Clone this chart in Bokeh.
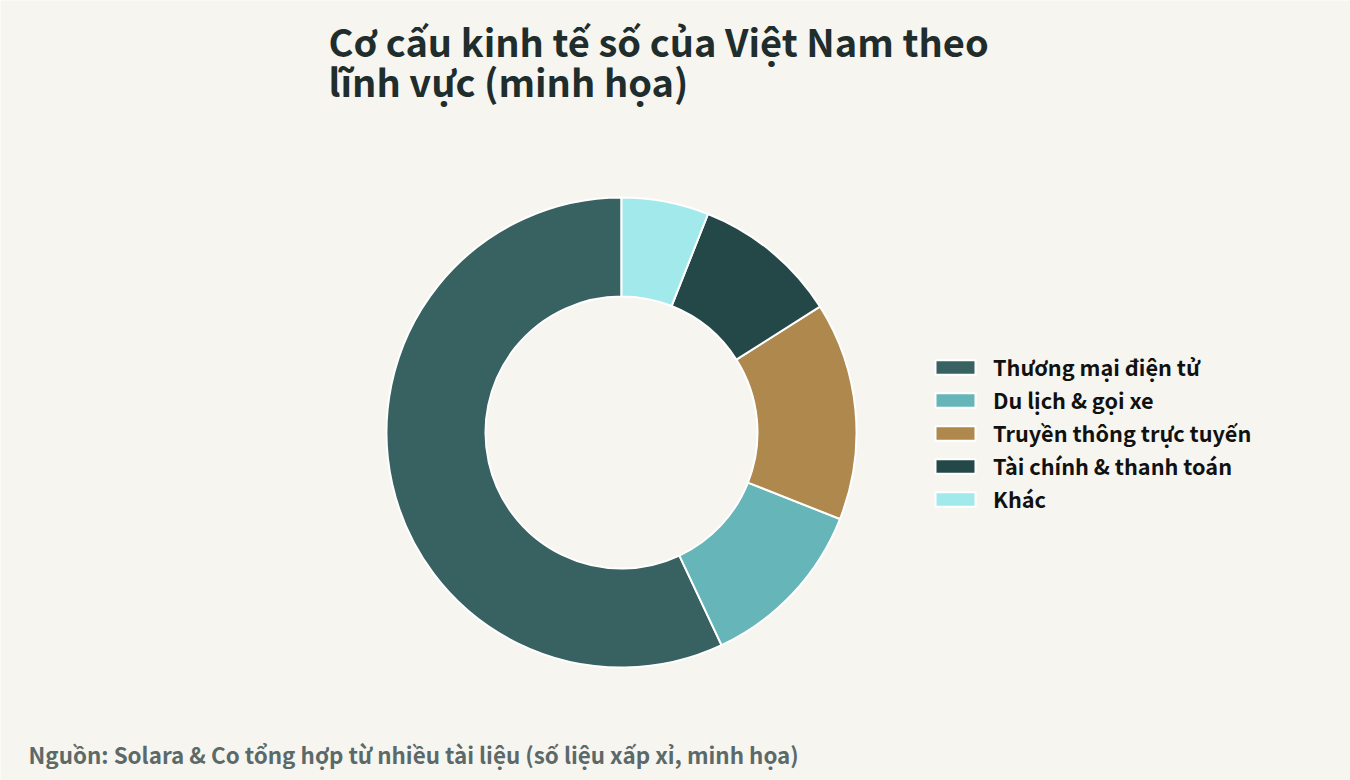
import numpy as np
from bokeh.plotting import figure
from bokeh.models import ColumnDataSource, Label, Legend, LegendItem, Range1d
from bokeh.embed import file_html
from bokeh.resources import INLINE

categories = ["Thương mại điện tử", "Du lịch & gọi xe", "Truyền thông trực tuyến",
              "Tài chính & thanh toán", "Khác"]
shares = [57, 12, 15, 10, 6]
colors = ["#386161", "#66b6b9", "#ae884c", "#234847", "#a2e9ec"]

title_lines = ["Cơ cấu kinh tế số của Việt Nam theo", "lĩnh vực (minh họa)"]
source_text = "Nguồn: Solara & Co tổng hợp từ nhiều tài liệu (số liệu xấp xỉ, minh họa)"

W, H = 1350, 780
BG = "#f6f5f0"
FONT = "Noto Sans CJK SC"

vals = np.array(shares, dtype=float)
frac = vals / vals.sum()
ends = np.pi / 2 + 2 * np.pi * np.cumsum(frac)
starts = np.concatenate([[np.pi / 2], ends[:-1]])

src = ColumnDataSource(dict(cat=categories, start=starts, end=ends, color=colors))

p = figure(width=W, height=H, output_backend="svg", toolbar_location=None,
           x_range=Range1d(0, W), y_range=Range1d(0, H), min_border=0,
           background_fill_color=BG, border_fill_color=BG)
p.axis.visible = False
p.grid.visible = False
p.outline_line_color = None

cx, cy = 621, 348
r = p.annular_wedge(x=cx, y=cy, inner_radius=136, outer_radius=235,
                    start_angle="start", end_angle="end", direction="anticlock",
                    fill_color="color", line_color="white", line_width=2, source=src)

items = [LegendItem(label=c, renderers=[r], index=i) for i, c in enumerate(categories)]
legend = Legend(items=items, location=(930, 266), orientation="vertical",
                background_fill_alpha=0, border_line_alpha=0, padding=0, margin=0,
                glyph_width=50, glyph_height=18, label_standoff=13, spacing=2,
                label_text_font=FONT, label_text_font_style="bold",
                label_text_font_size="21.7px", label_text_color="#111111")
p.add_layout(legend, "center")

for i, t in enumerate(title_lines):
    p.add_layout(Label(x=328, y=740 - i * 40, text=t, text_font=FONT,
                       text_font_style="bold", text_font_size="38px",
                       text_color="#1f2d2c", text_baseline="alphabetic"))

p.add_layout(Label(x=28, y=27, text=source_text, text_font=FONT,
                   text_font_style="bold", text_font_size="22.4px",
                   text_color="#5b6a69", text_baseline="alphabetic"))

open("out.html", "w").write(file_html(p, INLINE))
